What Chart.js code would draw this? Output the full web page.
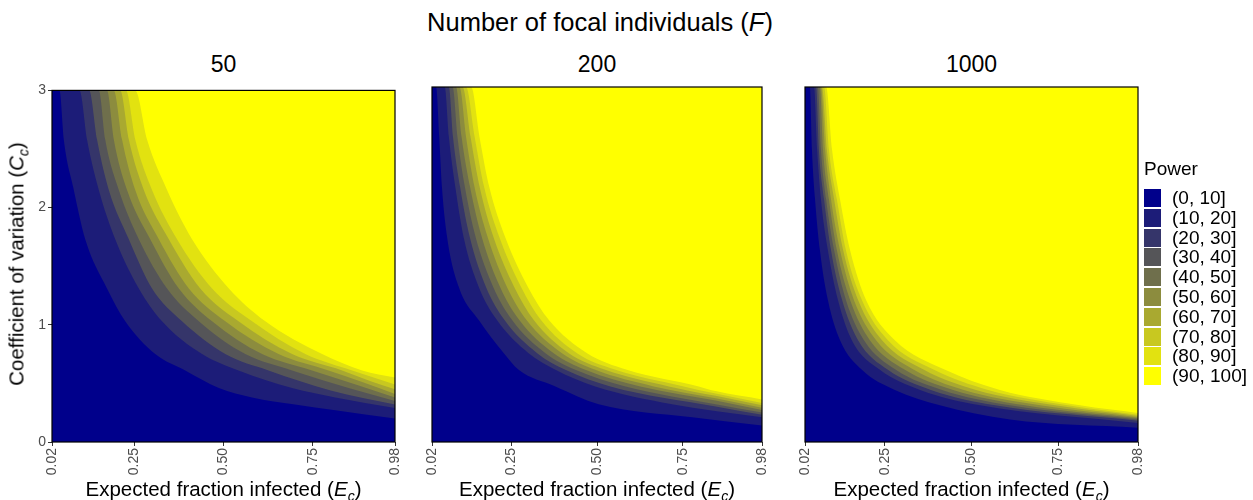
<!DOCTYPE html>
<html>
<head>
<meta charset="utf-8">
<script src="https://cdn.jsdelivr.net/npm/chart.js@4"></script>
<style>
  body { margin: 0; background: #fff; font-family: "Liberation Sans", Arial, sans-serif; }
  #fig { position: relative; width: 1253px; height: 500px; overflow: hidden; }
  .panel { position: absolute; top: 80px; height: 420px; }
  .txt { position: absolute; white-space: nowrap; color: #000; }
  .ctr { transform: translateX(-50%); text-align: center; }
  .key { position: absolute; left: 1144px; width: 17px; height: 18px; }
  .lab { position: absolute; left: 1172px; font-size: 19px; line-height: 20px; }
  .strip { top: 50px; font-size: 23px; line-height: 28px; }
  .xt { top: 477px; font-size: 20.5px; line-height: 24px; }
</style>
</head>
<body>
<div id="fig">
  <div class="txt ctr" style="left:600px; top:7px; font-size:25.5px; line-height:30px;">Number of focal individuals (<i>F</i>)</div>

  <div class="txt ctr strip" id="s0" style="left:223.5px;"></div>
  <div class="txt ctr strip" id="s1" style="left:597px;"></div>
  <div class="txt ctr strip" id="s2" style="left:971.5px;"></div>

  <div class="panel" style="left:0px; width:405px;"><canvas id="p0"></canvas></div>
  <div class="panel" style="left:420px; width:352px;"><canvas id="p1"></canvas></div>
  <div class="panel" style="left:795px; width:353px;"><canvas id="p2"></canvas></div>

  <div class="txt ctr xt" style="left:223.5px;">Expected fraction infected (<i>E</i><sub style="font-size:14px;"><i>c</i></sub>)</div>
  <div class="txt ctr xt" style="left:597px;">Expected fraction infected (<i>E</i><sub style="font-size:14px;"><i>c</i></sub>)</div>
  <div class="txt ctr xt" style="left:971.5px;">Expected fraction infected (<i>E</i><sub style="font-size:14px;"><i>c</i></sub>)</div>

  <div class="txt" style="left:20px; top:264px; font-size:20.5px; line-height:24px; transform: translate(-50%,-50%) rotate(-90deg);">Coefficient of variation (<i>C</i><sub style="font-size:14px;"><i>c</i></sub>)</div>

  <div class="txt" style="left:1144px; top:158px; font-size:19px; line-height:22px;">Power</div>
  <div id="legend"></div>
</div>
<script>
// axis ticks
const eTicks = [0.02, 0.25, 0.50, 0.75, 0.98];
const cTicks = [0, 1, 2, 3];

// facets and power classes
const focalSizes = ['50', '200', '1000'];
const powerBins = ['(0, 10]', '(10, 20]', '(20, 30]', '(30, 40]', '(40, 50]',
                   '(50, 60]', '(60, 70]', '(70, 80]', '(80, 90]', '(90, 100]'];
const binColors = ['#00008B', '#1C1C78', '#35356A', '#555558', '#6F6F4C',
                   '#8C8C3E', '#A9A930', '#C8C820', '#E2E210', '#FFFF00'];

// contour lines at power 10, 20, ... 90 as [E_c, C_c] points
const contour50 = [
  [[0.02,3],[0.041,3],[0.053,2.58],[0.081,2.15],[0.113,1.73],[0.174,1.31],[0.225,1.03],[0.309,0.75],[0.393,0.61],[0.487,0.46],[0.58,0.38],[0.70,0.32],[0.813,0.27],[0.98,0.20]],
  [[0.02,3],[0.097,3],[0.118,2.58],[0.151,2.15],[0.197,1.73],[0.263,1.31],[0.328,1.03],[0.44,0.75],[0.542,0.61],[0.692,0.46],[0.813,0.38],[0.98,0.29]],
  [[0.02,3],[0.124,3],[0.146,2.58],[0.179,2.15],[0.235,1.73],[0.30,1.31],[0.384,1.03],[0.505,0.75],[0.626,0.61],[0.80,0.44],[0.98,0.32]],
  [[0.02,3],[0.151,3],[0.169,2.58],[0.207,2.15],[0.263,1.73],[0.342,1.31],[0.431,1.03],[0.561,0.75],[0.692,0.61],[0.85,0.46],[0.98,0.35]],
  [[0.02,3],[0.174,3],[0.193,2.58],[0.23,2.15],[0.295,1.73],[0.375,1.31],[0.468,1.03],[0.608,0.75],[0.748,0.61],[0.87,0.49],[0.98,0.38]],
  [[0.02,3],[0.193,3],[0.216,2.58],[0.253,2.15],[0.319,1.73],[0.403,1.31],[0.505,1.03],[0.654,0.75],[0.794,0.61],[0.89,0.51],[0.98,0.41]],
  [[0.02,3],[0.211,3],[0.235,2.58],[0.277,2.15],[0.347,1.73],[0.435,1.31],[0.542,1.03],[0.692,0.75],[0.832,0.61],[0.91,0.52],[0.98,0.45]],
  [[0.02,3],[0.227,3],[0.253,2.58],[0.30,2.15],[0.37,1.73],[0.468,1.31],[0.58,1.03],[0.729,0.75],[0.86,0.61],[0.98,0.49]],
  [[0.02,3],[0.253,3],[0.286,2.58],[0.342,2.15],[0.412,1.73],[0.515,1.31],[0.617,1.03],[0.776,0.75],[0.888,0.61],[0.98,0.55]]
];
const contour200 = [
  [[0.02,3],[0.032,3],[0.041,2.58],[0.049,2.15],[0.064,1.73],[0.098,1.31],[0.156,1.03],[0.229,0.75],[0.272,0.61],[0.379,0.47],[0.505,0.32],[0.777,0.21],[0.98,0.14]],
  [[0.02,3],[0.057,3],[0.069,2.58],[0.088,2.15],[0.112,1.73],[0.156,1.31],[0.209,1.03],[0.301,0.75],[0.379,0.61],[0.495,0.47],[0.718,0.32],[0.98,0.21]],
  [[0.02,3],[0.069,3],[0.081,2.58],[0.102,2.15],[0.13,1.73],[0.177,1.31],[0.231,1.03],[0.326,0.75],[0.408,0.61],[0.539,0.47],[0.845,0.30],[0.98,0.23]],
  [[0.02,3],[0.08,3],[0.094,2.58],[0.116,2.15],[0.147,1.73],[0.198,1.31],[0.253,1.03],[0.35,0.75],[0.437,0.61],[0.583,0.47],[0.845,0.32],[0.98,0.25]],
  [[0.02,3],[0.09,3],[0.106,2.58],[0.131,2.15],[0.165,1.73],[0.218,1.31],[0.274,1.03],[0.374,0.75],[0.466,0.61],[0.626,0.47],[0.845,0.35],[0.98,0.27]],
  [[0.02,3],[0.10,3],[0.119,2.58],[0.144,2.15],[0.182,1.73],[0.238,1.31],[0.295,1.03],[0.398,0.75],[0.495,0.61],[0.665,0.47],[0.845,0.37],[0.98,0.29]],
  [[0.02,3],[0.109,3],[0.132,2.58],[0.159,2.15],[0.199,1.73],[0.259,1.31],[0.316,1.03],[0.418,0.75],[0.524,0.61],[0.709,0.47],[0.845,0.39],[0.98,0.31]],
  [[0.02,3],[0.119,3],[0.144,2.58],[0.172,2.15],[0.216,1.73],[0.279,1.31],[0.337,1.03],[0.442,0.75],[0.554,0.61],[0.752,0.47],[0.845,0.41],[0.98,0.33]],
  [[0.02,3],[0.134,3],[0.158,2.58],[0.187,2.15],[0.233,1.73],[0.299,1.31],[0.36,1.03],[0.471,0.75],[0.587,0.61],[0.796,0.47],[0.845,0.43],[0.98,0.36]]
];
const contour1000 = [
  [[0.02,3],[0.034,3],[0.04,2.47],[0.049,2.05],[0.063,1.62],[0.086,1.2],[0.121,0.86],[0.184,0.61],[0.279,0.44],[0.409,0.31],[0.611,0.19],[0.98,0.12]],
  [[0.02,3],[0.046,3],[0.055,2.47],[0.066,2.05],[0.086,1.62],[0.115,1.2],[0.155,0.86],[0.236,0.61],[0.352,0.44],[0.525,0.31],[0.98,0.16]],
  [[0.02,3],[0.052,3],[0.06,2.47],[0.075,2.05],[0.095,1.62],[0.127,1.2],[0.173,0.86],[0.259,0.61],[0.383,0.44],[0.568,0.31],[0.98,0.18]],
  [[0.02,3],[0.057,3],[0.066,2.47],[0.081,2.05],[0.104,1.62],[0.138,1.2],[0.19,0.86],[0.282,0.61],[0.415,0.44],[0.611,0.31],[0.98,0.19]],
  [[0.02,3],[0.063,3],[0.072,2.47],[0.089,2.05],[0.112,1.62],[0.15,1.2],[0.207,0.86],[0.308,0.61],[0.447,0.44],[0.654,0.31],[0.98,0.20]],
  [[0.02,3],[0.066,3],[0.078,2.47],[0.095,2.05],[0.121,1.62],[0.161,1.2],[0.225,0.86],[0.334,0.61],[0.478,0.44],[0.698,0.31],[0.98,0.21]],
  [[0.02,3],[0.069,3],[0.083,2.47],[0.104,2.05],[0.13,1.62],[0.173,1.2],[0.242,0.86],[0.363,0.61],[0.513,0.44],[0.741,0.31],[0.98,0.22]],
  [[0.02,3],[0.075,3],[0.089,2.47],[0.112,2.05],[0.138,1.62],[0.184,1.2],[0.259,0.86],[0.392,0.61],[0.548,0.44],[0.778,0.31],[0.98,0.23]],
  [[0.02,3],[0.081,3],[0.098,2.47],[0.121,2.05],[0.15,1.62],[0.196,1.2],[0.279,0.86],[0.424,0.61],[0.582,0.44],[0.813,0.31],[0.98,0.245]]
];

const FONT = '"Liberation Sans", Arial, sans-serif';

// yellow panel background (top class) and the black frame
const panelFrame = {
    id: 'panelFrame',
    beforeDatasetsDraw(chart) {
        const a = chart.chartArea, ctx = chart.ctx;
        ctx.save();
        ctx.fillStyle = binColors[binColors.length - 1];
        ctx.fillRect(a.left, a.top, a.right - a.left, a.bottom - a.top);
        ctx.restore();
    },
    afterDatasetsDraw(chart) {
        const a = chart.chartArea, ctx = chart.ctx;
        ctx.save();
        ctx.strokeStyle = '#000';
        ctx.lineWidth = 1.2;
        ctx.strokeRect(a.left, a.top, a.right - a.left, a.bottom - a.top);
        ctx.restore();
    }
};

function makePanel(canvasId, curves, showY, padLeft) {
    const datasets = curves.map((pts, i) => ({
        data: pts.map(p => ({ x: p[0], y: p[1] })),
        backgroundColor: binColors[i],
        borderColor: binColors[i],
        borderWidth: 0,
        pointRadius: 0,
        cubicInterpolationMode: 'monotone',
        fill: 'start'
    }));

    const tickGrid = {
        display: true,
        drawOnChartArea: false,
        drawTicks: true,
        tickLength: 4,
        color: '#333333'
    };

    return new Chart(document.getElementById(canvasId), {
        type: 'line',
        data: { datasets: datasets },
        options: {
            responsive: true,
            maintainAspectRatio: false,
            animation: false,
            layout: { padding: { top: 7, right: 10, left: padLeft, bottom: 0 } },
            plugins: { legend: { display: false }, tooltip: { enabled: false } },
            scales: {
                x: {
                    type: 'linear',
                    min: 0.02,
                    max: 0.98,
                    afterBuildTicks: s => { s.ticks = eTicks.map(v => ({ value: v })); },
                    afterFit: s => { s.height = 58; s.paddingLeft = 0; s.paddingRight = 0; },
                    ticks: {
                        autoSkip: false,
                        minRotation: 90,
                        maxRotation: 90,
                        padding: 2,
                        color: '#4D4D4D',
                        font: { family: FONT, size: 14 },
                        callback: v => Number(v).toFixed(2)
                    },
                    grid: tickGrid,
                    border: { display: false }
                },
                y: {
                    type: 'linear',
                    display: showY,
                    min: 0,
                    max: 3,
                    afterBuildTicks: s => { s.ticks = cTicks.map(v => ({ value: v })); },
                    afterFit: s => { if (showY) s.width = 52; },
                    ticks: {
                        padding: 2,
                        color: '#4D4D4D',
                        font: { family: FONT, size: 14 },
                        callback: v => String(v)
                    },
                    grid: tickGrid,
                    border: { display: false }
                }
            }
        },
        plugins: [panelFrame]
    });
}

makePanel('p0', contour50, true, 0);
makePanel('p1', contour200, false, 12);
makePanel('p2', contour1000, false, 10);

focalSizes.forEach((f, i) => { document.getElementById('s' + i).textContent = f; });

// legend
const legend = document.getElementById('legend');
powerBins.forEach((label, i) => {
    const top = 189 + i * 19.8;
    const key = document.createElement('div');
    key.className = 'key';
    key.style.top = top + 'px';
    key.style.background = binColors[i];
    legend.appendChild(key);
    const txt = document.createElement('div');
    txt.className = 'txt lab';
    txt.style.top = (top - 1) + 'px';
    txt.textContent = label;
    legend.appendChild(txt);
});
</script>
</body>
</html>
